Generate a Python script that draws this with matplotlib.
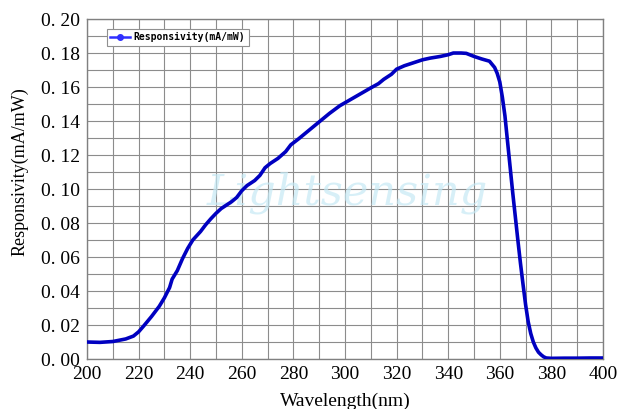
import matplotlib
matplotlib.use("Agg")
import matplotlib.pyplot as plt
import numpy as np

# Responsivity curve
wavelength = [200, 205, 210, 215, 218, 220, 222, 225, 228, 230, 232, 233, 235,
              237, 239, 241, 244, 246, 248, 250, 252, 254, 256, 258, 260, 262,
              265, 267, 269, 271, 274, 277, 279, 282, 286, 290, 294, 298, 302,
              306, 310, 313, 315, 318, 320, 323, 327, 330, 333, 337, 340, 342,
              345, 347, 350, 353, 356, 358, 359, 360, 361, 362, 363, 364, 365,
              366, 367, 368, 369, 370, 371, 372, 373, 374, 375, 376, 377, 378,
              380, 385, 390, 395, 400]
responsivity = [0.0100, 0.0098, 0.0103, 0.0118, 0.0135, 0.0160, 0.0195, 0.0250,
                0.0310, 0.0360, 0.0420, 0.0470, 0.0520, 0.0590, 0.0650, 0.0700,
                0.0750, 0.0790, 0.0825, 0.0857, 0.0885, 0.0905, 0.0925, 0.0950,
                0.0990, 0.1020, 0.1050, 0.1080, 0.1125, 0.1150, 0.1180, 0.1220,
                0.1260, 0.1295, 0.1345, 0.1395, 0.1445, 0.1490, 0.1525, 0.1560,
                0.1595, 0.1620, 0.1645, 0.1675, 0.1705, 0.1725, 0.1745, 0.1760,
                0.1770, 0.1780, 0.1790, 0.1800, 0.1800, 0.1798, 0.1780, 0.1765,
                0.1752, 0.1715, 0.1680, 0.1630, 0.1540, 0.1430, 0.1280, 0.1130,
                0.0980, 0.0840, 0.0700, 0.0565, 0.0440, 0.0320, 0.0220, 0.0150,
                0.0100, 0.0065, 0.0040, 0.0025, 0.0013, 0.0006, 0.0004, 0.0005,
                0.0005, 0.0006, 0.0006]

x_ticks = [200, 220, 240, 260, 280, 300, 320, 340, 360, 380, 400]
y_ticks = [0.00, 0.02, 0.04, 0.06, 0.08, 0.10, 0.12, 0.14, 0.16, 0.18, 0.20]

plt.rcParams['font.family'] = ['Liberation Serif', 'DejaVu Serif']

fig = plt.figure(figsize=(6.18, 4.09), dpi=100)
ax = fig.add_axes([0.1408, 0.1222, 0.8349, 0.8313])

# watermark
ax.text(0.505, 0.49, 'Lightsensing', transform=ax.transAxes, ha='center', va='center',
        fontsize=31, style='italic', family='DejaVu Serif', color='#c6e9f5',
        alpha=0.7, zorder=1)

ax.plot(wavelength, responsivity, color='#0000c0', linewidth=2.6, zorder=3,
        solid_capstyle='round')

# legend entry drawn like the original (line with a circle marker)
handle, = ax.plot([], [], color='#3030ff', linewidth=1.8, marker='o', markersize=4)
leg = ax.legend([handle], ['Responsivity(mA/mW)'], loc='upper left',
                bbox_to_anchor=(0.033, 0.98), fancybox=False, framealpha=1,
                edgecolor='#909090', prop={'family': 'DejaVu Sans Mono', 'size': 7,
                                           'weight': 'bold'},
                handlelength=2.0, borderpad=0.35, handletextpad=0.4,
                borderaxespad=0.3)
leg.get_frame().set_linewidth(0.8)

ax.set_xlim(200, 400)
ax.set_ylim(0, 0.20)
ax.set_xticks(np.arange(200, 401, 10), minor=True)
ax.set_yticks(np.arange(0, 0.2001, 0.01), minor=True)
ax.set_xticks(x_ticks)
ax.set_yticks(y_ticks)
ax.set_yticklabels([f"{v:.2f}".replace('.', '. ') for v in y_ticks])
ax.grid(True, which='both', color='#8c8c8c', linewidth=0.8)
ax.set_axisbelow(True)
ax.tick_params(which='both', length=0, labelsize=14, pad=5)

for s in ax.spines.values():
    s.set_color('#808080')
    s.set_linewidth(1.0)

ax.set_xlabel('Wavelength(nm)', fontsize=14, labelpad=7)
ax.set_ylabel('Responsivity(mA/mW)', fontsize=13)
ax.yaxis.set_label_coords(-0.114, 0.55)

fig.savefig('out.png', dpi=100)
